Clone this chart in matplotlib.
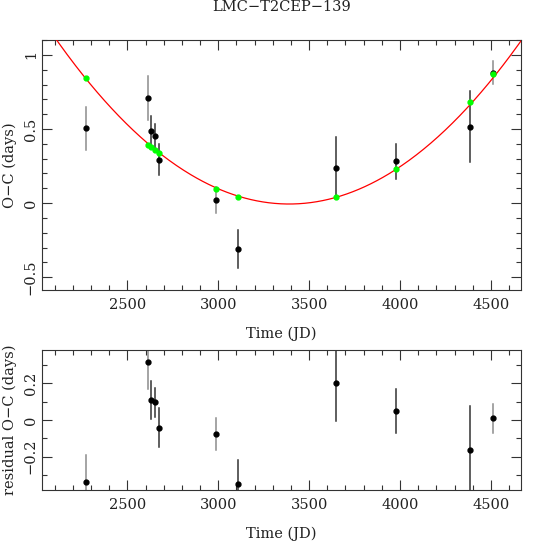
import numpy as np
import matplotlib
matplotlib.use("Agg")
import matplotlib.pyplot as plt
from matplotlib.ticker import MultipleLocator

plt.rcParams['font.family'] = ['DejaVu Serif']
plt.rcParams['axes.unicode_minus'] = True

# observation times (JD - 2450000)
t = [2270, 2613, 2632, 2650, 2672, 2988, 3111, 3649, 3976, 4383, 4510]
# observed O-C (days)
oc = [0.506, 0.710, 0.485, 0.454, 0.294, 0.020, -0.308, 0.240, 0.281, 0.517, 0.881]
# uncertainties
err = [0.146, 0.148, 0.105, 0.080, 0.107, 0.087, 0.130, 0.204, 0.120, 0.240, 0.080]
# residuals after subtracting the fit
resid = [-0.337, 0.315, 0.109, 0.097, -0.042, -0.076, -0.349, 0.200, 0.049, -0.164, 0.009]
# error bar shade per point (two data sources)
bar_col = ['#8c8c8c', '#8c8c8c', '#333333', '#333333', '#333333', '#8c8c8c',
           '#333333', '#333333', '#333333', '#333333', '#8c8c8c']

# parabola fit: a*(t - t0)^2 + c
fit_a = 6.76e-7
fit_t0 = 3390.0
fit_c = -0.006

t = np.array(t)
oc = np.array(oc)
err = np.array(err)
resid = np.array(resid)
fit_pts = oc - resid

fig = plt.figure(figsize=(5.46, 5.42), dpi=100)
ax1 = fig.add_axes([0.0769, 0.465, 0.877, 0.461])
ax2 = fig.add_axes([0.0769, 0.096, 0.877, 0.258])

xlim = (2030, 4665)
fs = 10.5

for ax in (ax1, ax2):
    ax.set_xlim(*xlim)
    ax.xaxis.set_major_locator(MultipleLocator(500))
    ax.xaxis.set_minor_locator(MultipleLocator(100))
    ax.yaxis.set_minor_locator(MultipleLocator(0.1))
    ax.tick_params(which='both', direction='in', top=True, right=True,
                   labelsize=fs, width=0.8, color='#333333', labelcolor='#222222')
    ax.tick_params(which='major', length=7)
    ax.tick_params(which='minor', length=3.5)
    ax.tick_params(axis='y', labelrotation=90, pad=3)
    ax.tick_params(axis='x', pad=6)
    for s in ax.spines.values():
        s.set_linewidth(0.8)
        s.set_color('#333333')
    ax.set_xlabel('Time (JD)', fontsize=fs, labelpad=10, color='#222222')

# top panel
for i in range(len(t)):
    ax1.plot([t[i], t[i]], [oc[i] - err[i], oc[i] + err[i]], color=bar_col[i], lw=1.1, zorder=2)
ax1.plot(t, oc, 'o', color='black', ms=3.5, zorder=3)
tt = np.linspace(xlim[0], xlim[1], 400)
ax1.plot(tt, fit_a * (tt - fit_t0) ** 2 + fit_c, color='red', lw=0.9, zorder=4)
ax1.plot(t, fit_pts, 'o', color='#00ff00', ms=3.5, zorder=5)
ax1.set_ylim(-0.586, 1.10)
ax1.set_yticks([-0.5, 0, 0.5, 1])
ax1.set_yticklabels(['\u22120.5', '0', '0.5', '1'])
ax1.set_ylabel('O\u2212C (days)', fontsize=fs, labelpad=5, color='#222222')
ax1.set_title('LMC\u2212T2CEP\u2212139', fontsize=10.5, pad=21, color='#222222')

# residual panel
for i in range(len(t)):
    ax2.plot([t[i], t[i]], [resid[i] - err[i], resid[i] + err[i]], color=bar_col[i], lw=1.1, zorder=2)
ax2.plot(t, resid, 'o', color='black', ms=3.5, zorder=3)
ax2.set_ylim(-0.382, 0.382)
ax2.set_yticks([-0.2, 0, 0.2])
ax2.set_yticklabels(['\u22120.2', '0', '0.2'])
ax2.set_ylabel('residual O\u2212C (days)', fontsize=fs, labelpad=5, color='#222222')

for ax in (ax1, ax2):
    for lab in ax.get_yticklabels():
        lab.set_va('center')

fig.savefig('out.png', dpi=100)
